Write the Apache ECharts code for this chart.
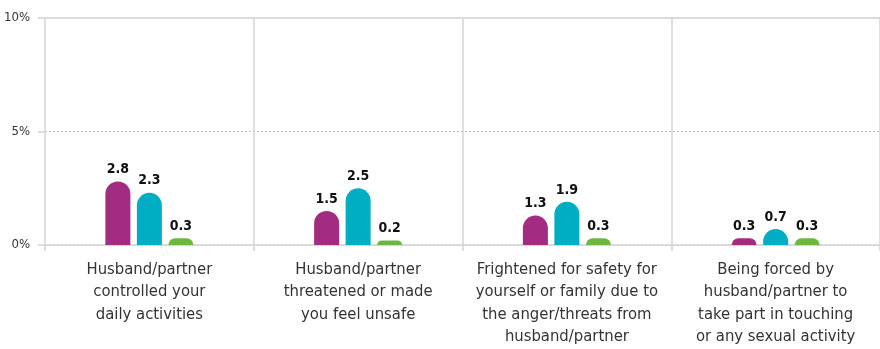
<!DOCTYPE html>
<html>
<head>
<meta charset="utf-8">
<script src="https://cdn.jsdelivr.net/npm/echarts@6/dist/echarts.min.js"></script>
<style>
  html, body { margin: 0; padding: 0; background: #fff; }
  #chart { width: 880px; height: 349px; }
</style>
</head>
<body>
<div id="chart"></div>
<script>
// Categories of controlling behaviour (line breaks as printed under the axis)
const categories = [
  'Husband/partner\ncontrolled your\ndaily activities',
  'Husband/partner\nthreatened or made\nyou feel unsafe',
  'Frightened for safety for\nyourself or family due to\nthe anger/threats from\nhusband/partner',
  'Being forced by\nhusband/partner to\ntake part in touching\nor any sexual activity'
];
// Percentages for the three groups
const seriesA = [2.8, 1.5, 1.3, 0.3];
const seriesB = [2.3, 2.5, 1.9, 0.7];
const seriesC = [0.3, 0.2, 0.3, 0.3];
const yTicks = [0, 5, 10];

const colors = ['#A22C7F', '#00AEC3', '#6DB741'];
const narrow = '"DejaVu Sans Condensed", "Liberation Sans Narrow", sans-serif';

const chart = echarts.init(document.getElementById('chart'), null, { renderer: 'canvas' });

function barSeries(name, data, color) {
  return {
    name: name,
    type: 'bar',
    data: data,
    barWidth: 25,
    barGap: '26%',
    barCategoryGap: '58%',
    itemStyle: { color: color, borderRadius: [13, 13, 0, 0] },
    label: {
      show: true,
      position: 'top',
      distance: 5,
      formatter: p => p.value.toFixed(1),
      fontFamily: narrow,
      fontWeight: 'bold',
      fontSize: 14,
      color: '#111'
    }
  };
}

chart.setOption({
  animation: false,
  // plot area runs a few pixels past the right edge of the canvas
  grid: { left: 45, width: 840, top: 18, bottom: 104, containLabel: false },
  xAxis: [{
    type: 'category',
    data: categories,
    boundaryGap: true,
    axisLine: { show: true, lineStyle: { color: '#d4d4d4', width: 1.5 } },
    axisTick: { show: true, alignWithLabel: false, length: 6, lineStyle: { color: '#d4d4d4', width: 1.5 } },
    splitLine: { show: true, lineStyle: { color: '#d4d4d4', width: 1.5 } },
    axisLabel: {
      interval: 0,
      margin: 13,
      fontFamily: narrow,
      fontSize: 16.5,
      lineHeight: 22.5,
      color: '#333'
    }
  }, {
    type: 'category',
    position: 'top',
    data: categories,
    axisLine: { show: true, lineStyle: { color: '#dcdcdc', width: 2 } },
    axisTick: { show: false },
    axisLabel: { show: false },
    splitLine: { show: false }
  }],
  yAxis: {
    type: 'value',
    min: yTicks[0],
    max: yTicks[yTicks.length - 1],
    interval: 5,
    axisLine: { show: false },
    axisTick: { show: true, length: 7, lineStyle: { color: '#d4d4d4', width: 1.5 } },
    splitLine: { show: true, lineStyle: { color: '#bdbdbd', type: [2, 2], width: 1 } },
    axisLabel: {
      margin: 15,
      formatter: v => v + '%',
      fontFamily: narrow,
      fontSize: 13,
      color: '#333'
    }
  },
  series: [
    barSeries('A', seriesA, colors[0]),
    barSeries('B', seriesB, colors[1]),
    barSeries('C', seriesC, colors[2])
  ]
});
</script>
</body>
</html>
